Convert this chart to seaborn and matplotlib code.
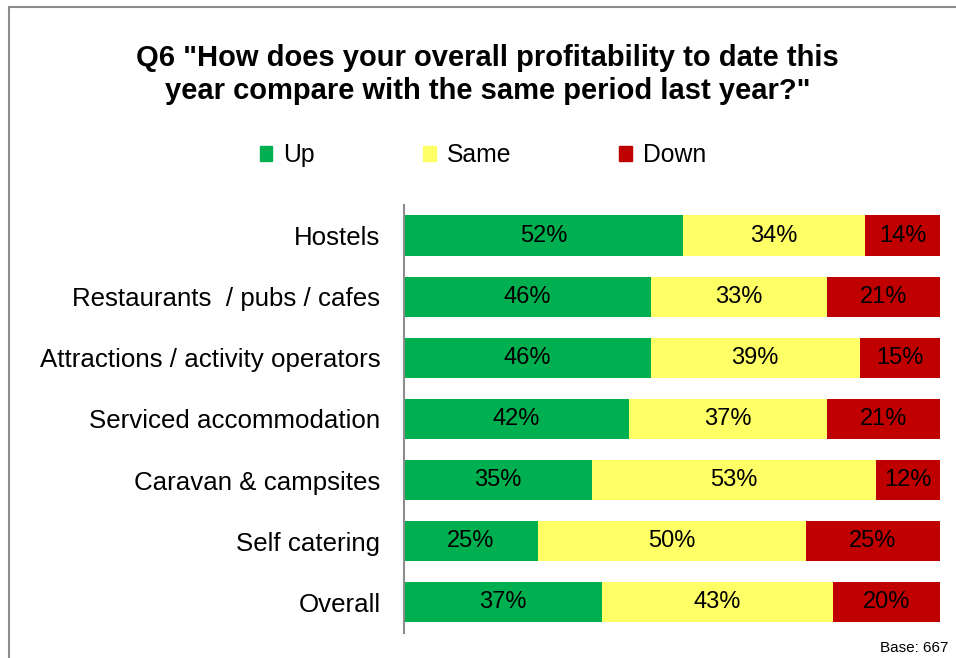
import pandas as pd
import numpy as np
import matplotlib.pyplot as plt
import seaborn as sns
from matplotlib.lines import Line2D
from matplotlib.patches import Patch

categories = ["Hostels", "Restaurants  / pubs / cafes", "Attractions / activity operators",
              "Serviced accommodation", "Caravan & campsites", "Self catering", "Overall"]
up = [52, 46, 46, 42, 35, 25, 37]
same = [34, 33, 39, 37, 53, 50, 43]
down = [14, 21, 15, 21, 12, 25, 20]

colors = {"Up": "#00B050", "Same": "#FFFF66", "Down": "#C00000"}

df = pd.DataFrame({"category": categories, "Up": up, "Same": same, "Down": down})
df["up_same"] = df["Up"] + df["Same"]
df["total"] = df["up_same"] + df["Down"]

sns.set_style("white")
plt.rcParams["font.family"] = ["Liberation Sans", "DejaVu Sans"]
plt.rcParams["text.color"] = "black"

fig = plt.figure(figsize=(9.56, 6.58), dpi=100)
ax = fig.add_axes([0.4226, 0.038, 0.5607, 0.6505])

# stacked bars drawn as cumulative layers
sns.barplot(data=df, x="total", y="category", color=colors["Down"], width=0.656,
            saturation=1, linewidth=0, ax=ax)
sns.barplot(data=df, x="up_same", y="category", color=colors["Same"], width=0.656,
            saturation=1, linewidth=0, ax=ax)
sns.barplot(data=df, x="Up", y="category", color=colors["Up"], width=0.656,
            saturation=1, linewidth=0, ax=ax)

for i, row in df.iterrows():
    ax.text(row["Up"] / 2, i, f"{row['Up']}%", ha="center", va="center", fontsize=17)
    ax.text(row["Up"] + row["Same"] / 2, i, f"{row['Same']}%", ha="center", va="center", fontsize=17)
    ax.text(row["up_same"] + row["Down"] / 2, i, f"{row['Down']}%", ha="center", va="center", fontsize=17)

ax.set_xlim(0, 100)
ax.set_ylim(6.5, -0.5)
ax.set_xlabel("")
ax.set_ylabel("")
ax.set_xticks([])
ax.tick_params(axis="y", length=0, pad=17, labelsize=18.6, labelcolor="black")
for s in ["top", "right", "bottom"]:
    ax.spines[s].set_visible(False)
ax.spines["left"].set_color("#8c8c8c")
ax.spines["left"].set_linewidth(1.5)

handles = [Patch(color=colors[k], label=k) for k in ["Up", "Same", "Down"]]
fig.legend(handles=handles, loc="center", bbox_to_anchor=(0.505, 0.764), ncol=3,
           frameon=False, fontsize=17.8, handlelength=0.52, handleheight=0.52,
           handletextpad=0.45, columnspacing=4.35)

fig.text(0.51, 0.887, 'Q6 "How does your overall profitability to date this\nyear compare with the same period last year?"',
         ha="center", va="center", fontsize=21, fontweight="bold", linespacing=1.22)
fig.text(0.992, 0.015, "Base: 667", ha="right", va="center", fontsize=11)

# outer frame (top and left edges visible)
fig.add_artist(Line2D([9 / 956, 1], [1 - 7 / 658, 1 - 7 / 658], color="#8c8c8c", linewidth=1.5))
fig.add_artist(Line2D([9 / 956, 9 / 956], [0, 1 - 7 / 658], color="#8c8c8c", linewidth=1.5))

fig.savefig("out.png", dpi=100)
